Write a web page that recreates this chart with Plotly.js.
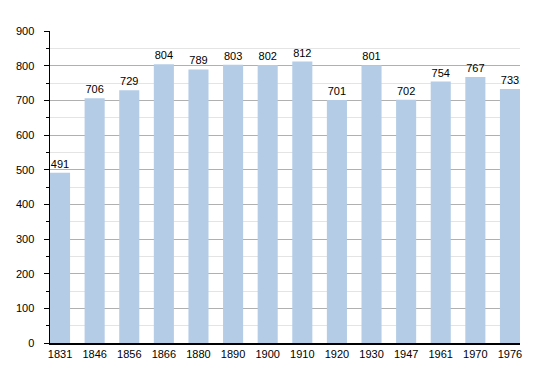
<!DOCTYPE html>
<html><head><meta charset="utf-8">
<script src="https://cdn.plot.ly/plotly-3.0.1.min.js"></script>
<style>html,body{margin:0;padding:0;background:#fff}#chart{width:550px;height:373px}</style>
</head><body><div id="chart"></div>
<script>
var years = ['1831','1846','1856','1866','1880','1890','1900','1910','1920','1930','1947','1961','1970','1976'];
var population = [491,706,729,804,789,803,802,812,701,801,702,754,767,733];
var yTicks = [0,100,200,300,400,500,600,700,800,900];

var trace = {
  type: 'bar',
  x: years,
  y: population,
  text: population.map(String),
  textposition: 'outside',
  cliponaxis: false,
  textfont: {family: 'Liberation Sans, Arial, sans-serif', size: 11, color: '#000'},
  marker: {color: '#b4cce6', line: {width: 0}},
  width: 0.58,
  hoverinfo: 'x+y'
};

var layout = {
  width: 550, height: 373,
  margin: {l: 50, r: 30, t: 31, b: 30},
  paper_bgcolor: '#fff', plot_bgcolor: '#fff',
  showlegend: false,
  font: {family: 'Liberation Sans, Arial, sans-serif', size: 11, color: '#000'},
  xaxis: {
    type: 'category',
    range: [-0.29, 13.29],
    showgrid: false,
    showline: true, linecolor: '#000', linewidth: 1.5,
    ticks: '', ticklabelstandoff: 0,
    tickfont: {size: 11}
  },
  yaxis: {
    range: [0, 900],
    tickvals: yTicks,
    ticks: 'outside', ticklen: 5, tickcolor: '#000',
    ticklabelstandoff: 7,
    showline: true, linecolor: '#000', linewidth: 1.5,
    showgrid: true, gridcolor: '#b0b0b0', gridwidth: 1,
    zeroline: false,
    tickfont: {size: 11},
    minor: {dtick: 50, tick0: 0, showgrid: true, gridcolor: '#e4e4e4', gridwidth: 1, ticks: 'outside', ticklen: 3, tickcolor: '#000'}
  }
};

Plotly.newPlot('chart', [trace], layout, {staticPlot: true, displayModeBar: false});
</script></body></html>
